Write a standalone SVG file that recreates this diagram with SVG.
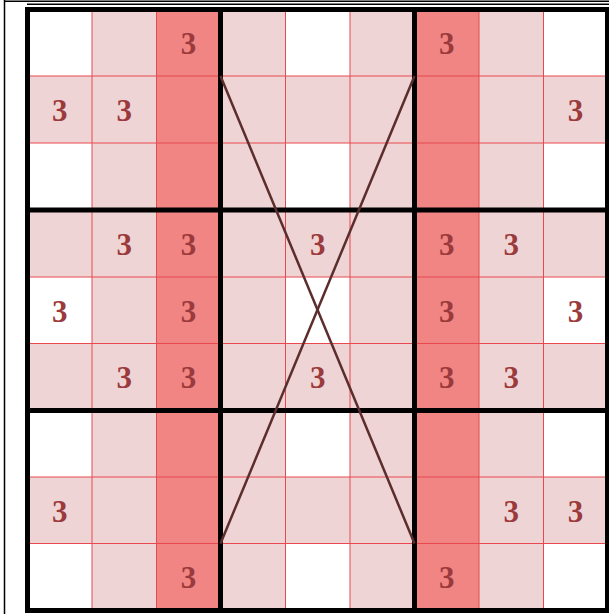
<svg xmlns="http://www.w3.org/2000/svg" width="609" height="614" viewBox="0 0 609 614">
<style>
.pink{fill:#efd4d6}
.coral{fill:#f08584}
.white{fill:#ffffff}
.thin{stroke:#e8484e;stroke-width:1;fill:none}
.thick{stroke:#000;stroke-width:5;fill:none}
.frame{stroke:#000;stroke-width:1.5;fill:none}
.x{stroke:#5b2d2d;stroke-width:2.5;fill:none}
.d{font-family:"Liberation Serif","Times New Roman",serif;font-size:31px;font-weight:bold;fill:#9b3a3c;text-anchor:middle}
</style>
<rect x="0" y="0" width="609" height="614" fill="#fff"/>
<g id="frame">
<line class="frame" x1="4.5" y1="0" x2="4.5" y2="614"/>
<line class="frame" x1="4" y1="1.2" x2="609" y2="1.2"/>
<line class="frame" x1="27" y1="4.2" x2="609" y2="4.2"/>
</g>
<g id="cells">
<rect class="pink" x="27.5" y="9.5" width="580" height="601"/>
<rect class="coral" x="156.5" y="9.5" width="64" height="601"/>
<rect class="coral" x="414.5" y="9.5" width="64.5" height="601"/>
<g class="white">
<rect x="27.5" y="9.5" width="64.5" height="66.5"/>
<rect x="285.5" y="9.5" width="64.5" height="66.5"/>
<rect x="543.5" y="9.5" width="64" height="66.5"/>
<rect x="27.5" y="143" width="64.5" height="67"/>
<rect x="285.5" y="143" width="64.5" height="67"/>
<rect x="543.5" y="143" width="64" height="67"/>
<rect x="27.5" y="277" width="64.5" height="66.5"/>
<rect x="285.5" y="277" width="64.5" height="66.5"/>
<rect x="543.5" y="277" width="64" height="66.5"/>
<rect x="27.5" y="410.5" width="64.5" height="66.5"/>
<rect x="285.5" y="410.5" width="64.5" height="66.5"/>
<rect x="543.5" y="410.5" width="64" height="66.5"/>
<rect x="27.5" y="543.5" width="64.5" height="67"/>
<rect x="285.5" y="543.5" width="64.5" height="67"/>
<rect x="543.5" y="543.5" width="64" height="67"/>
</g>
</g>
<g id="gridlines">
<g class="thin">
<line x1="92" y1="9.5" x2="92" y2="610.5"/>
<line x1="156.5" y1="9.5" x2="156.5" y2="610.5"/>
<line x1="285.5" y1="9.5" x2="285.5" y2="610.5"/>
<line x1="350" y1="9.5" x2="350" y2="610.5"/>
<line x1="479" y1="9.5" x2="479" y2="610.5"/>
<line x1="543.5" y1="9.5" x2="543.5" y2="610.5"/>
<line x1="27.5" y1="76" x2="607.5" y2="76"/>
<line x1="27.5" y1="143" x2="607.5" y2="143"/>
<line x1="27.5" y1="277" x2="607.5" y2="277"/>
<line x1="27.5" y1="343.5" x2="607.5" y2="343.5"/>
<line x1="27.5" y1="477" x2="607.5" y2="477"/>
<line x1="27.5" y1="543.5" x2="607.5" y2="543.5"/>
</g>
<g class="thick">
<line x1="220.5" y1="9.5" x2="220.5" y2="610.5"/>
<line x1="414.5" y1="9.5" x2="414.5" y2="610.5"/>
<line x1="27.5" y1="210" x2="607.5" y2="210"/>
<line x1="27.5" y1="410.5" x2="607.5" y2="410.5"/>
<rect x="27.5" y="9.5" width="580" height="601"/>
</g>
</g>
<g id="connectors">
<line class="x" x1="220.5" y1="76" x2="414.5" y2="543.5"/>
<line class="x" x1="414.5" y1="76" x2="220.5" y2="543.5"/>
</g>
<g id="digits" class="d">
<text x="188.5" y="54">3</text>
<text x="446.75" y="54">3</text>
<text x="59.75" y="121">3</text>
<text x="124.25" y="121">3</text>
<text x="575.5" y="121">3</text>
<text x="124.25" y="255">3</text>
<text x="188.5" y="255">3</text>
<text x="317.75" y="255">3</text>
<text x="446.75" y="255">3</text>
<text x="511.25" y="255">3</text>
<text x="59.75" y="321.5">3</text>
<text x="188.5" y="321.5">3</text>
<text x="446.75" y="321.5">3</text>
<text x="575.5" y="321.5">3</text>
<text x="124.25" y="388">3</text>
<text x="188.5" y="388">3</text>
<text x="317.75" y="388">3</text>
<text x="446.75" y="388">3</text>
<text x="511.25" y="388">3</text>
<text x="59.75" y="521.5">3</text>
<text x="511.25" y="521.5">3</text>
<text x="575.5" y="521.5">3</text>
<text x="188.5" y="588">3</text>
<text x="446.75" y="588">3</text>
</g>
</svg>
